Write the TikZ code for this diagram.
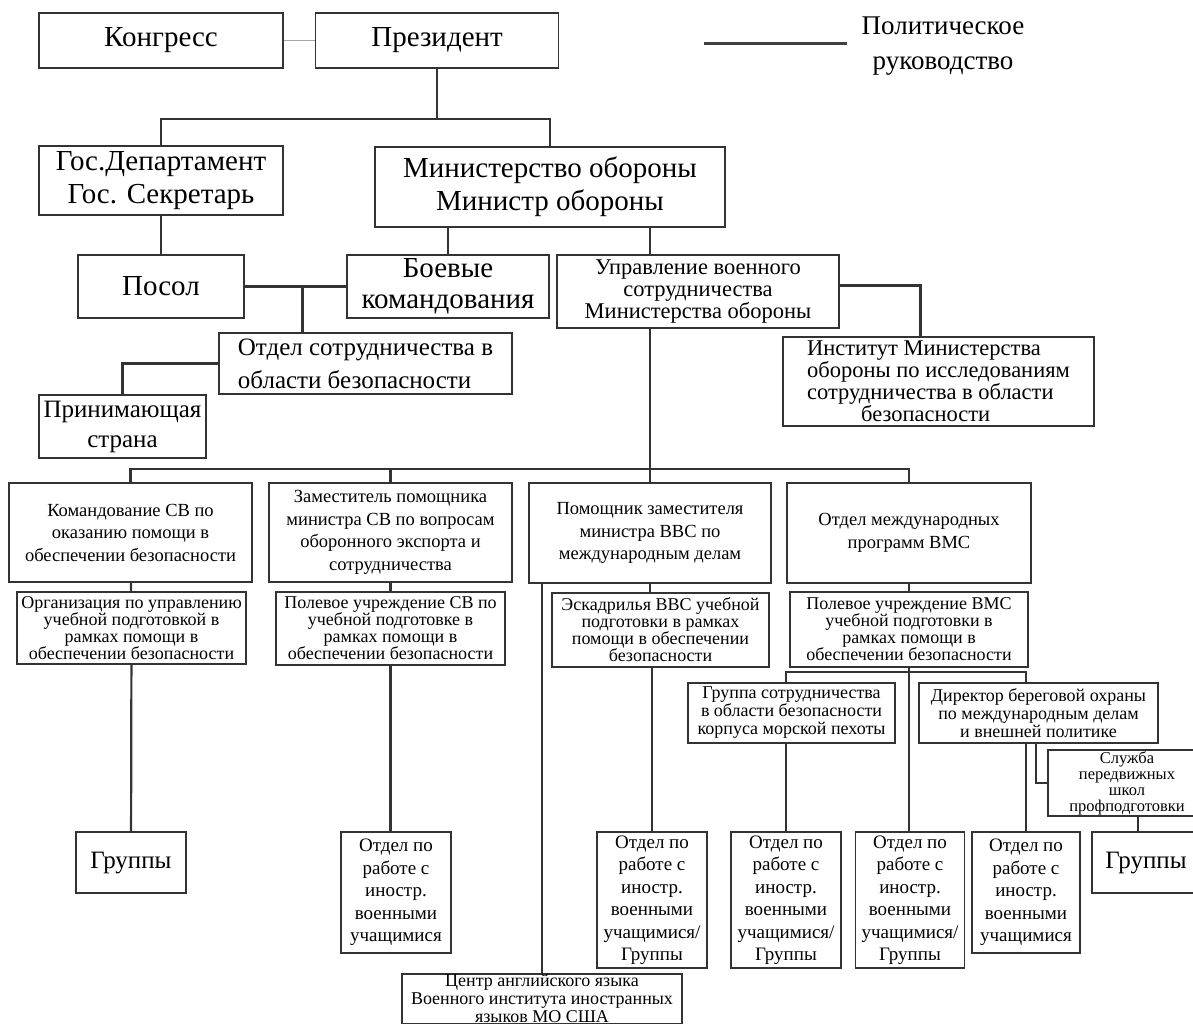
\documentclass[tikz,border=0pt]{standalone}
\usepackage{fontspec}
\setmainfont{Liberation Serif}
\usetikzlibrary{positioning,calc}
\newcommand\fsz[2]{\fontsize{#1}{#2}\selectfont\lineskiplimit=-40pt}

\begin{document}
\begin{tikzpicture}[x=1pt,y=-1pt,
	box/.style={draw=black!80,line width=1.6pt,inner sep=1.5pt,align=center},
	bigf/.style={font=\fsz{29}{33}},
	legf/.style={font=\fsz{27}{35},inner sep=0pt,align=center},
	midf/.style={font=\fsz{22.5}{22}},
	cmdf/.style={font=\fsz{18.5}{22.5}},
	tinyf/.style={font=\fsz{18}{17}},
	grpf/.style={font=\fsz{18}{18}},
	stdf/.style={font=\fsz{19}{22.5}},
	link/.style={draw=black!80,line width=2.2pt},
	thinlink/.style={draw=black!35,line width=1pt},
	legline/.style={draw=black!75,line width=3pt}]
	\useasboundingbox (0,0) rectangle (1193,1031);

	% top level
	\node[box,bigf,minimum width=244pt,minimum height=55pt] (Kongress) at (161,40.5) {Конгресс};
	\node[box,bigf,minimum width=243pt,minimum height=55pt,right=31pt of Kongress] (Prezident) {Президент};
	\node[legf] (Legend) at (943,46) {Политическое\\руководство};
	\coordinate (LegStart) at (704,43);

	\node[box,bigf,minimum width=244pt,minimum height=69pt] (GosDep) at (161,180.5) {Гос.Департамент\\Гос. Секретарь};
	\node[box,bigf,minimum width=350pt,minimum height=80pt] (MinOb) at (550,187) {Министерство обороны\\Министр обороны};

	\node[box,bigf,minimum width=166pt,minimum height=63pt] (Posol) at (161,286.5) {Посол};
	\node[box,font=\fsz{29}{31},minimum width=202pt,minimum height=63pt] (BoevKom) at (448,286.5) {Боевые\\командования};
	\node[box,midf,minimum width=282pt,minimum height=73pt] (UprVS) at (698,291.5) {Управление военного\\сотрудничества\\Министерства обороны};

	\node[box,font=\fsz{25}{33},align=left,minimum width=293pt,minimum height=61pt] (OtdSB) at (365.5,363.5) {Отдел сотрудничества в\\области безопасности};
	\node[box,font=\fsz{25}{30},minimum width=167pt,minimum height=63pt] (PrinStr) at (122.5,426.5) {Принимающая\\страна};
	\node[box,midf,inner sep=1pt,align=left,minimum width=311pt,minimum height=89pt] (InstMO) at (938.5,381.5) {Институт Министерства\\обороны по исследованиям\\сотрудничества в области\\\hspace*{2.4em}безопасности};

	% services
	\node[box,cmdf,minimum width=243pt,minimum height=99pt] (KomSV) at (130.5,532.5) {Командование СВ по\\оказанию помощи в\\обеспечении безопасности};
	\node[box,cmdf,minimum width=243pt,minimum height=99pt] (ZamSV) at (390.5,532.5) {Заместитель помощника\\министра СВ по вопросам\\оборонного экспорта и\\сотрудничества};
	\node[box,cmdf,minimum width=242pt,minimum height=100pt] (PomVVS) at (650,533) {Помощник заместителя\\министра ВВС по\\международным делам};
	\node[box,cmdf,minimum width=244pt,minimum height=100pt] (OtdMP) at (909,533) {Отдел международных\\программ ВМС};

	\node[box,tinyf,minimum width=229pt,minimum height=72pt] (OrgUP) at (131.5,628) {Организация по управлению\\учебной подготовкой в\\рамках помощи в\\обеспечении безопасности};
	\node[box,tinyf,minimum width=229pt,minimum height=73pt] (PolSV) at (390.5,628.5) {Полевое учреждение СВ по\\учебной подготовке в\\рамках помощи в\\обеспечении безопасности};
	\node[box,tinyf,minimum width=217pt,minimum height=74pt] (EskVVS) at (660.5,630) {Эскадрилья ВВС учебной\\подготовки в рамках\\помощи в обеспечении\\безопасности};
	\node[box,tinyf,minimum width=238pt,minimum height=75pt] (PolVMS) at (909,629.5) {Полевое учреждение ВМС\\учебной подготовки в\\рамках помощи в\\обеспечении безопасности};

	\node[box,grpf,minimum width=207pt,minimum height=60pt] (GrKMP) at (791.5,713) {Группа сотрудничества\\в области безопасности\\корпуса морской пехоты};
	\node[box,grpf,minimum width=239pt,minimum height=60pt] (DirBO) at (1038.5,713) {Директор береговой охраны\\по международным делам\\и внешней политике};
	\node[box,font=\fsz{16.5}{16},inner sep=0.5pt,minimum width=158pt,minimum height=66pt] (SlShk) at (1127,783) {Служба\\передвижных\\школ\\профподготовки};

	% bottom row
	\node[box,font=\fsz{25}{30},minimum width=110pt,minimum height=61pt] (GrL) at (131,862.5) {Группы};
	\node[box,stdf,minimum width=110pt,minimum height=121pt] (OtdSV) at (396,892.5) {Отдел по\\работе с\\иностр.\\военными\\учащимися};
	\node[box,stdf,minimum width=110pt,minimum height=136pt] (OtdVVS) at (652,900) {Отдел по\\работе с\\иностр.\\военными\\учащимися/\\Группы};
	\node[box,stdf,minimum width=110pt,minimum height=136pt] (OtdKMP) at (786,900) {Отдел по\\работе с\\иностр.\\военными\\учащимися/\\Группы};
	\node[box,stdf,minimum width=109pt,minimum height=136pt] (OtdBO) at (910,900) {Отдел по\\работе с\\иностр.\\военными\\учащимися/\\Группы};
	\node[box,stdf,minimum width=108pt,minimum height=121pt] (OtdDir) at (1026,892.5) {Отдел по\\работе с\\иностр.\\военными\\учащимися};
	\node[box,font=\fsz{25}{30},minimum width=108pt,minimum height=61pt] (GrR) at (1146,862.5) {Группы};
	\node[box,font=\fsz{18}{18},inner ysep=0.5pt,minimum width=280pt,anchor=north] (Centr) at (542,973) {Центр английского языка\\Военного института иностранных\\языков МО США};

	% connectors
	\draw[thinlink] (Kongress) -- (Prezident);
	\draw[legline] (LegStart) -- ([xshift=-15pt]Legend.west |- LegStart);
	\draw[link] (Prezident.south) -- ++(0,50) coordinate (jPrez);
	\draw[link] (GosDep.north) |- (jPrez) -| (MinOb.north);
	\draw[link] (GosDep) -- (Posol);
	\draw[link] (BoevKom.north |- MinOb.south) -- (BoevKom.north);
	\draw[link] (PomVVS.north |- MinOb.south) -- (PomVVS.north |- UprVS.north);
	\draw[link] (Posol.east) -- (BoevKom.west);
	\draw[link] ([xshift=-63pt]OtdSB.north) -- ([xshift=-63pt]OtdSB.north |- Posol.east);
	\draw[link] (OtdSB.west) -| (PrinStr.north);
	\draw[link] ([yshift=6pt]UprVS.east) -| ([xshift=-18pt]InstMO.north);

	\draw[link] (PomVVS.north |- UprVS.south) -- (PomVVS.north);
	\draw[link] (KomSV.north) -- ++(0,-13) -| (OtdMP.north);
	\draw[link] (ZamSV.north) -- ++(0,-13);

	\draw[link] (KomSV) -- (OrgUP);
	\draw[link] (ZamSV) -- (PolSV);
	\draw[link] (PomVVS.south) -- (PomVVS.south |- EskVVS.north);
	\draw[link] (OtdMP) -- (PolVMS);

	\draw[link] (OrgUP) -- (GrL);
	\draw[link] (PolSV.south) -- (PolSV.south |- OtdSV.north);
	\draw[link] (Centr.north |- PomVVS.south) -- (Centr.north);
	\draw[link] (OtdVVS.north |- EskVVS.south) -- (OtdVVS.north);
	\draw[link] (PolVMS.south) -- (PolVMS.south |- OtdBO.north);
	\draw[link] (OtdKMP.north |- GrKMP.north) -- ++(0,-10) -| (OtdDir.north |- DirBO.north);
	\draw[link] (OtdKMP.north |- GrKMP.south) -- (OtdKMP.north);
	\draw[link] (OtdDir.north |- DirBO.south) -- (OtdDir.north);
	\draw[link] ($(OtdDir.north |- DirBO.south)+(10,0)$) |- (SlShk.west);
	\draw[link] ([xshift=11pt]SlShk.south) -- ([xshift=11pt]SlShk.south |- GrR.north);
\end{tikzpicture}
\end{document}
